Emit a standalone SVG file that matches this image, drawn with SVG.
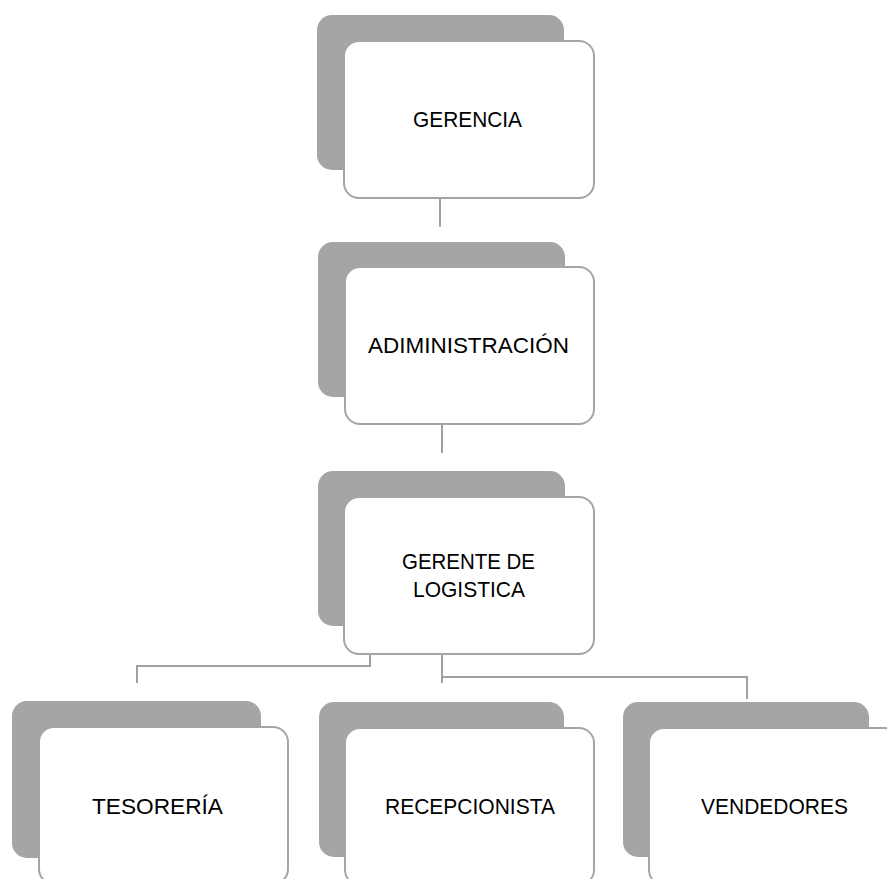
<svg xmlns="http://www.w3.org/2000/svg" width="887" height="879" viewBox="0 0 887 879">
  <style>
    .back { fill: #A5A5A5; }
    .card { fill: #FFFFFF; stroke: #A5A5A5; stroke-width: 2; }
    .label { font-family: "Liberation Sans", Arial, sans-serif; font-size: 22px; fill: #000000; text-anchor: middle; }
    .link { fill: none; stroke: #A0A0A0; stroke-width: 2; }
  </style>
  <rect width="887" height="879" fill="#FFFFFF"/>

  <!-- connectors -->
  <g id="connectors">
    <path class="link" d="M440 198 V227"/>
    <path class="link" d="M442 424 V453"/>
    <path class="link" d="M370 654 V666 H137 V683"/>
    <path class="link" d="M442 654 V683"/>
    <path class="link" d="M442 677 H747 V699"/>
  </g>

  <g id="gerencia">
    <rect class="back" x="317" y="15" width="247" height="155" rx="15"/>
    <rect class="card" x="344" y="41" width="250" height="157" rx="15"/>
    <text class="label" x="467.5" y="127" textLength="109" lengthAdjust="spacingAndGlyphs">GERENCIA</text>
  </g>

  <g id="administracion">
    <rect class="back" x="318" y="242" width="247" height="155" rx="15"/>
    <rect class="card" x="345" y="267" width="249" height="157" rx="15"/>
    <text class="label" x="468.5" y="353" textLength="201" lengthAdjust="spacingAndGlyphs">ADIMINISTRACIÓN</text>
  </g>

  <g id="gerente-logistica">
    <rect class="back" x="318" y="471" width="247" height="155" rx="15"/>
    <rect class="card" x="344" y="497" width="250" height="157" rx="15"/>
    <text class="label" x="468.5" y="569" textLength="133" lengthAdjust="spacingAndGlyphs">GERENTE DE</text>
    <text class="label" x="469" y="597" textLength="112" lengthAdjust="spacingAndGlyphs">LOGISTICA</text>
  </g>

  <g id="tesoreria">
    <rect class="back" x="12" y="701" width="249" height="157" rx="15"/>
    <rect class="card" x="39" y="727" width="249" height="157" rx="15"/>
    <text class="label" x="157.5" y="814" textLength="131" lengthAdjust="spacingAndGlyphs">TESORERÍA</text>
  </g>

  <g id="recepcionista">
    <rect class="back" x="319" y="702" width="245" height="155" rx="15"/>
    <rect class="card" x="345" y="728" width="249" height="157" rx="15"/>
    <text class="label" x="470" y="814" textLength="170" lengthAdjust="spacingAndGlyphs">RECEPCIONISTA</text>
  </g>

  <g id="vendedores">
    <rect class="back" x="623" y="702" width="246" height="155" rx="15"/>
    <rect class="card" x="649" y="728" width="250" height="157" rx="15"/>
    <text class="label" x="774.5" y="814" textLength="147" lengthAdjust="spacingAndGlyphs">VENDEDORES</text>
  </g>
</svg>
